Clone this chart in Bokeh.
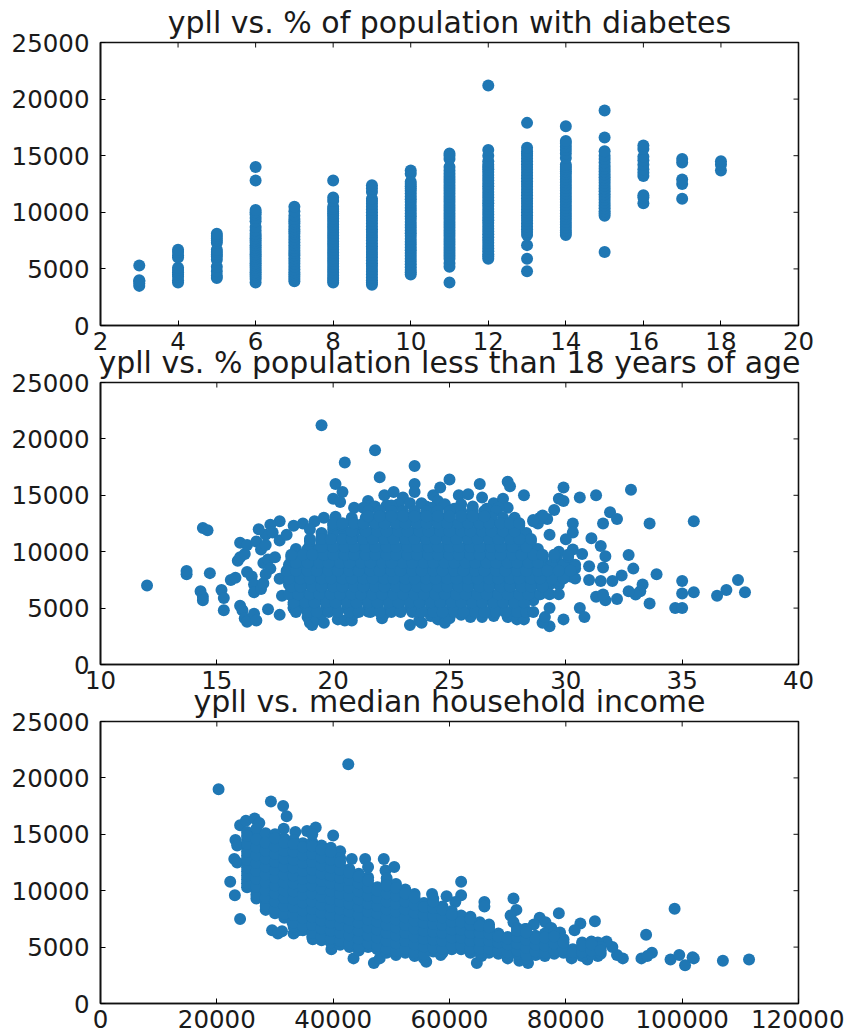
from bokeh.plotting import figure
from bokeh.layouts import column
from bokeh.models import Range1d, FixedTicker, BasicTickFormatter
from bokeh.embed import file_html
from bokeh.resources import INLINE

COLOR = "#1f77b4"
titles = ["ypll vs. % of population with diabetes",
          "ypll vs. % population less than 18 years of age",
          "ypll vs. median household income"]
y_ticks = [0, 5000, 10000, 15000, 20000, 25000]
x_ticks_1 = [2, 4, 6, 8, 10, 12, 14, 16, 18, 20]
x_ticks_2 = [10, 15, 20, 25, 30, 35, 40]
x_ticks_3 = [0, 20000, 40000, 60000, 80000, 100000, 120000]

# Panel 1: ypll values listed per diabetes percentage
diabetes_pct = [3, 4, 5, 6, 7, 8, 9, 10, 11, 12, 13, 14, 15, 16, 17, 18]
ypll_by_pct = [
    [3500, 3700, 3900, 4000, 5300],
    [3800, 4000, 4300, 4500, 4700, 4900, 5100, 6000, 6200, 6500, 6700],
    [4200, 4400, 4800, 5200, 5800, 6100, 6300, 6500, 6700, 7300, 7500, 7700, 7900, 8100],
    [3800, 4100, 4300, 4500, 4700, 4900, 5100, 5300, 5500, 5700, 5900, 6100, 6300, 6500, 6700, 6900, 7100, 7300, 7500, 7700, 7900, 8100, 8400, 8700, 9200, 9500, 9800, 10000, 10200, 12800, 14000],
    [3900, 4100, 4300, 4500, 4700, 4950, 5200, 5450, 5700, 5950, 6200, 6400, 6600, 6850, 7100, 7350, 7600, 7850, 8100, 8300, 8500, 8750, 9000, 9200, 9400, 9700, 10100, 10500],
    [3800, 4000, 4200, 4450, 4700, 4950, 5200, 5450, 5700, 5950, 6200, 6450, 6700, 6950, 7200, 7450, 7700, 7950, 8200, 8450, 8700, 8950, 9200, 9450, 9700, 9900, 10100, 10300, 10500, 11000, 11300, 12800],
    [3600, 3800, 4000, 4250, 4500, 4750, 5000, 5250, 5500, 5750, 6000, 6250, 6500, 6750, 7000, 7250, 7500, 7750, 8000, 8250, 8500, 8750, 9000, 9250, 9500, 9750, 10000, 10250, 10500, 10750, 11000, 11200, 11800, 12100, 12400],
    [4500, 4700, 4900, 5150, 5400, 5650, 5900, 6150, 6400, 6650, 6900, 7150, 7400, 7650, 7900, 8150, 8400, 8650, 8900, 9150, 9400, 9650, 9900, 10150, 10400, 10650, 10900, 11150, 11400, 11650, 11900, 12100, 12300, 12500, 12700, 13400, 13700],
    [3800, 5200, 5500, 5900, 6150, 6400, 6650, 6900, 7150, 7400, 7650, 7900, 8150, 8400, 8650, 8900, 9150, 9400, 9650, 9900, 10150, 10400, 10650, 10900, 11150, 11400, 11650, 11900, 12150, 12400, 12650, 12900, 13150, 13400, 13700, 14000, 14700, 15000, 15200],
    [5900, 6100, 6300, 6550, 6800, 7050, 7300, 7550, 7800, 8050, 8300, 8550, 8800, 9050, 9300, 9550, 9800, 10050, 10300, 10550, 10800, 11050, 11300, 11550, 11800, 12050, 12300, 12550, 12800, 13050, 13300, 13550, 13800, 14000, 14200, 14500, 15000, 15500, 21200],
    [4800, 5900, 7100, 8000, 8250, 8500, 8750, 9000, 9250, 9500, 9750, 10000, 10250, 10500, 10750, 11000, 11250, 11500, 11750, 12000, 12250, 12500, 12750, 13000, 13250, 13500, 13750, 14000, 14250, 14500, 14750, 15000, 15200, 15400, 15700, 17900],
    [8000, 8200, 8400, 8650, 8900, 9150, 9400, 9650, 9900, 10150, 10400, 10650, 10900, 11150, 11400, 11650, 11900, 12150, 12400, 12650, 12900, 13150, 13400, 13600, 13800, 14000, 14200, 14800, 15200, 15500, 15800, 16100, 16300, 17600],
    [6500, 9700, 9900, 10100, 10350, 10600, 10850, 11100, 11350, 11600, 11850, 12100, 12350, 12600, 12850, 13100, 13350, 13600, 13850, 14100, 14400, 14700, 15000, 15400, 16600, 19000],
    [10800, 11300, 11500, 13200, 13500, 13800, 14200, 14600, 14900, 15600, 15900],
    [11200, 12500, 12900, 14400, 14700],
    [13700, 14200, 14500],
]

# Panel 2: scattered points around the main cloud
under18_pct = [12, 13.7, 13.7, 14.3, 14.4, 14.4, 14.4, 14.6, 14.7, 15.2, 15.3, 15.3, 15.6, 15.8, 15.9, 16.0, 16.2, 16.0, 16.3, 16.0, 16.1, 16.2, 16.3, 16.6, 16.7, 16.3, 16.5, 16.6, 16.6, 16.9, 17.0, 16.7, 16.9, 17.1, 17.1, 16.8, 17.7, 17.3, 18.3, 18.7, 19.2, 19.6, 20.1, 19.0, 17.4, 17.7, 18.0, 17.0, 17.2, 17.5, 17.3, 17.1, 17.7, 17.8, 17.7, 17.2,
               19.5, 21.8, 20.5, 22.0, 23.5, 20.1, 23.5, 25.0, 26.3, 27.5, 27.6, 20.4, 20.0, 20.3, 20.9, 21.5, 21.5, 22.2, 22.6, 23.0, 23.5, 24.3, 24.6, 24.5, 25.4, 25.8, 26.4, 26.9, 27.3, 27.5, 28.2, 26.0, 25.5, 22.8, 24.0, 23.8,
               21.3, 21.8, 22.3, 23.3, 24.8, 26.6, 27.1, 28.6, 28.9, 27.0, 22.5, 24.2, 25.2,
               29.9, 29.7, 29.9, 30.6, 31.3, 32.8, 31.9, 32.2, 31.6, 33.6, 35.5, 30.3, 30.3, 30.0, 31.1, 31.5, 31.7, 32.7, 32.9, 31.6, 31.0, 33.9, 32.4, 35.0, 37.4, 36.9, 37.7, 36.5, 35.5, 35.0, 34.7, 35.0, 33.6, 33.3, 33.2, 33.0, 32.7, 32.2, 31.7, 31.3, 31.6, 30.6, 30.8, 29.9, 29.3, 31.0, 31.5, 32.0, 29.7, 29.2, 28.8, 28.9, 29.3, 29.5, 29.0, 28.6, 30.3, 30.7, 29.6,
               18.3, 18.6, 18.9, 19.0, 19.1, 19.3, 19.6, 19.5, 20.2, 20.5, 20.8, 20.9, 21.5, 22.1, 22.2, 23.3, 23.7, 23.8, 24.2, 24.5, 24.8, 25.0, 25.5, 25.9, 26.4, 26.9, 27.5, 27.9, 28.2, 28.3, 29.0, 29.1, 29.3]
under18_ypll = [7000, 8000, 8300, 6500, 6000, 5700, 12100, 11900, 8100, 6600, 5900, 4800, 7500, 7700, 9200, 9500, 9800, 10800, 10600, 5200, 4800, 4100, 3800, 4500, 3900, 8200, 7800, 7100, 6400, 6700, 7200, 10900, 10200, 10600, 11500, 12000, 12700, 12400, 12300, 12500, 12700, 13000, 13100, 12000, 11700, 11000, 11500, 9000, 9300, 9500, 8500, 8000, 7600, 6100, 4400, 4900,
                21200, 19000, 17900, 16600, 17600, 16000, 16000, 16400, 16000, 16200, 15800, 15300, 14700, 14400, 13900, 14500, 14000, 15000, 15300, 14800, 15300, 15000, 15700, 14500, 15000, 15100, 14800, 14300, 14700, 13900, 15000, 14000, 14200, 14200, 14000, 14300,
                13900, 14000, 14100, 14300, 14200, 13800, 13900, 12700, 13000, 13600, 14100, 13900, 13800,
                15700, 14700, 14500, 14800, 15000, 15500, 13500, 12900, 12500, 12500, 12700, 12500, 11700, 11100, 11200, 10500, 9600, 9700, 8500, 8600, 8700, 8000, 7900, 7400, 7500, 6600, 6400, 6100, 6400, 6300, 5000, 5000, 5400, 7100, 6500, 6200, 6500, 5800, 5700, 6000, 6200, 5000, 4200, 4000, 3400, 7500, 7400, 7400, 10000, 12900, 12500, 13000, 11500, 13700, 13200, 12800, 10200, 9800, 9500,
                5000, 5300, 4200, 3700, 3500, 4000, 3700, 4500, 4000, 3900, 3900, 4500, 4700, 4100, 4500, 3500, 3900, 3700, 4300, 4000, 3700, 4100, 4400, 4200, 4200, 4300, 4200, 4000, 4000, 4700, 3700, 4200, 5000]

# Panel 2: the dense cloud, as x values along bands of ypll
cloud2_ypll = [5000, 5700, 6400, 7100, 7800, 8500, 9200, 9900, 10600, 11300, 12000, 12700, 13300]
cloud2_ypll_mid = [5350, 6050, 6750, 7450, 8150, 8850, 9550, 10250, 10950, 11650, 12350, 13000, 13600]
cloud2_ypll_low = [4650, 5520, 6220, 6920, 7620, 8320, 9020, 9720, 10420, 11120, 11820, 12520, 13150]
cloud2_row_low = [1, 0, 3, 2, 5, 4, 7, 6, 9, 8, 11, 10, 12]
cloud2_pct = [
    [18.3, 18.8, 19.2, 19.7, 20.1, 20.6, 21.0, 21.5, 21.9, 22.4, 22.8, 23.3, 23.7, 24.2, 24.6, 25.1, 25.5, 26.0, 26.4, 26.9, 27.3, 27.8, 28.2],
    [18.4, 18.9, 19.3, 19.8, 20.2, 20.7, 21.1, 21.6, 22.0, 22.5, 22.9, 23.4, 23.8, 24.3, 24.7, 25.2, 25.6, 26.1, 26.5, 27.0, 27.4, 27.9, 28.3, 28.6],
    [18.2, 18.6, 19.1, 19.5, 20.0, 20.4, 20.9, 21.3, 21.8, 22.2, 22.7, 23.1, 23.6, 24.0, 24.5, 24.9, 25.4, 25.8, 26.3, 26.7, 27.2, 27.6, 28.1, 28.5, 29.0],
    [18.1, 18.5, 19.0, 19.4, 19.9, 20.3, 20.8, 21.2, 21.7, 22.1, 22.6, 23.0, 23.5, 23.9, 24.4, 24.8, 25.3, 25.7, 26.2, 26.6, 27.1, 27.5, 28.0, 28.4, 28.9, 29.3, 29.7],
    [18.0, 18.4, 18.9, 19.3, 19.8, 20.2, 20.7, 21.1, 21.6, 22.0, 22.5, 22.9, 23.4, 23.8, 24.3, 24.7, 25.2, 25.6, 26.1, 26.5, 27.0, 27.4, 27.9, 28.3, 28.8, 29.2, 29.7, 30.2],
    [18.1, 18.6, 19.0, 19.5, 19.9, 20.4, 20.8, 21.3, 21.7, 22.2, 22.6, 23.1, 23.5, 24.0, 24.4, 24.9, 25.3, 25.8, 26.2, 26.7, 27.1, 27.6, 28.0, 28.5, 28.9, 29.4, 29.9, 30.4],
    [18.2, 18.7, 19.1, 19.6, 20.0, 20.5, 20.9, 21.4, 21.8, 22.3, 22.7, 23.2, 23.6, 24.1, 24.5, 25.0, 25.4, 25.9, 26.3, 26.8, 27.2, 27.7, 28.1, 28.6, 29.0, 29.5, 30.1],
    [18.4, 18.9, 19.4, 19.8, 20.3, 20.7, 21.2, 21.6, 22.1, 22.5, 23.0, 23.4, 23.9, 24.3, 24.8, 25.2, 25.7, 26.1, 26.6, 27.0, 27.5, 27.9, 28.4, 28.8],
    [19.0, 19.5, 19.9, 20.4, 20.8, 21.3, 21.7, 22.2, 22.6, 23.1, 23.5, 24.0, 24.4, 24.9, 25.3, 25.8, 26.2, 26.7, 27.1, 27.6, 28.0, 28.5],
    [19.5, 20.0, 20.5, 20.9, 21.4, 21.8, 22.3, 22.7, 23.2, 23.6, 24.1, 24.5, 25.0, 25.4, 25.9, 26.3, 26.8, 27.2, 27.7, 28.3],
    [20.0, 20.4, 20.9, 21.3, 21.8, 22.2, 22.7, 23.1, 23.6, 24.0, 24.5, 24.9, 25.4, 25.8, 26.3, 26.7, 27.2, 27.6, 28.0],
    [20.8, 21.4, 21.9, 22.3, 22.8, 23.2, 23.7, 24.1, 24.6, 25.0, 25.5, 25.9, 26.4, 26.8, 27.3, 27.8],
    [21.5, 22.0, 22.5, 23.0, 23.5, 24.0, 24.5, 25.0, 25.5, 26.0, 26.5],
]

# Panel 3: scattered points around the main band
income = [20300, 42600, 29300, 31400, 32000, 24000, 25000, 26500, 27300, 23200, 23500, 23000, 23500, 22300, 23100, 24000, 29500, 30500, 31200, 33200, 33000, 37000, 35500, 33500, 40000, 31500, 41200, 43200, 45500, 48700, 49000, 50500, 62000, 62000, 61000, 59500, 57000, 66000, 66000, 71000, 71500, 70500, 71000, 78800, 75500, 85000, 82500, 81500, 98700, 93800, 94800, 93000, 94000, 98000, 99500, 100500, 101800, 102000, 107000, 111500, 89800, 88800, 88000, 87000, 85500, 84500, 83000, 47000, 48000, 43500, 39700, 36500, 34000, 56000, 58500, 64700, 65500, 70000, 73500, 72000, 83700, 85500, 81000, 74500, 76500, 77500, 79000, 73000, 72500]
income_ypll = [19000, 21200, 17900, 17500, 16600, 15800, 16200, 16400, 16000, 14500, 14000, 12800, 12500, 10800, 9600, 7500, 6500, 6200, 6400, 6200, 7200, 15600, 15300, 15200, 14900, 15500, 13500, 12800, 12800, 12800, 11800, 12100, 10800, 9600, 9000, 9500, 9700, 9000, 8600, 9300, 8300, 7800, 7200, 8000, 7600, 7300, 7100, 6500, 8400, 6100, 4500, 4000, 4200, 3900, 4300, 3400, 4100, 4000, 3800, 3900, 4000, 4300, 5000, 5500, 5400, 5000, 5200, 3600, 4000, 4000, 4800, 5700, 6500, 3700, 4300, 3600, 4200, 4000, 3600, 3800, 3900, 4200, 4000, 7000, 7200, 6700, 6300, 6600, 6200]

# Panel 3: the dense band, as ypll values along income columns
band3_income = [25200, 26800, 28400, 30000, 31600, 33200, 34800, 36400, 38000, 39600, 41200, 42800, 44400, 46000, 47600, 49200, 50800, 52400, 54000, 55600, 57200, 58800, 60400, 62000, 63600, 65200, 66800, 68400, 70000, 71600, 73200, 74800, 76400, 78000, 79600, 81200, 82800, 84400, 86000]
band3_ypll = [
    [10300, 11000, 11700, 12400, 13100, 13800, 14500, 15200],
    [9300, 10000, 10700, 11400, 12100, 12800, 13500, 14200, 14900, 15500],
    [8300, 9000, 9700, 10400, 11100, 11800, 12500, 13200, 13900, 14600, 15100],
    [8000, 8700, 9400, 10100, 10800, 11500, 12200, 12900, 13600, 14300, 15000],
    [7600, 8300, 9000, 9700, 10400, 11100, 11800, 12500, 13200, 13900, 14600],
    [6800, 7500, 8200, 8900, 9600, 10300, 11000, 11700, 12400, 13100, 13800, 14500],
    [6500, 7200, 7900, 8600, 9300, 10000, 10700, 11400, 12100, 12800, 13500, 14200],
    [5900, 6600, 7300, 8000, 8700, 9400, 10100, 10800, 11500, 12200, 12900, 13600, 14300, 15000],
    [5600, 6300, 7000, 7700, 8400, 9100, 9800, 10500, 11200, 11900, 12600, 13300, 14000],
    [5400, 6100, 6800, 7500, 8200, 8900, 9600, 10300, 11000, 11700, 12400, 13100, 13800],
    [5200, 5900, 6600, 7300, 8000, 8700, 9400, 10100, 10800, 11500, 12200, 12900],
    [5000, 5700, 6400, 7100, 7800, 8500, 9200, 9900, 10600, 11300, 11900],
    [4700, 5400, 6100, 6800, 7500, 8200, 8900, 9600, 10300, 11000, 11500],
    [5000, 5700, 6400, 7100, 7800, 8500, 9200, 9900, 10600, 11200, 12100],
    [4800, 5500, 6200, 6900, 7600, 8300, 9000, 9700, 10300],
    [4500, 5200, 5900, 6600, 7300, 8000, 8700, 9400, 10100, 10800, 11100],
    [4300, 5000, 5700, 6400, 7100, 7800, 8500, 9200, 9900, 10600],
    [4500, 5200, 5900, 6600, 7300, 8000, 8700, 9400, 10100],
    [4200, 4900, 5600, 6300, 7000, 7700, 8400, 9100, 9700],
    [4000, 4700, 5400, 6100, 6800, 7500, 8200, 8900],
    [4600, 5300, 6000, 6700, 7400, 8100, 8800, 9300],
    [4500, 5200, 5900, 6600, 7300, 8000, 8600],
    [4800, 5500, 6200, 6900, 7600, 8200],
    [4800, 5500, 6200, 6900, 7500, 7800],
    [4500, 5200, 5900, 6600, 7300, 7700],
    [4500, 5200, 5900, 6600, 7200],
    [4500, 5200, 5900, 6500, 7000],
    [4400, 5100, 5700, 6200],
    [4200, 4900, 5600, 5900],
    [4400, 5000, 5600, 6200, 6700],
    [4000, 4600, 5300, 6000, 6600],
    [4300, 4900, 5500, 6000],
    [4200, 4800, 5500, 6200],
    [4400, 5000, 5600, 6300],
    [4500, 5100, 5700],
    [4300, 4800],
    [4200, 4900, 5400],
    [4400, 5000, 5500],
    [4400, 5000],
]
band3_ypll_mid = [
    [10650, 11350, 12050, 12750, 13450, 14150, 14850],
    [9650, 10350, 11050, 11750, 12450, 13150, 13850, 14550],
    [8650, 9350, 10050, 10750, 11450, 12150, 12850, 13550, 14250],
    [8350, 9050, 9750, 10450, 11150, 11850, 12550, 13250, 13950, 14650],
    [7950, 8650, 9350, 10050, 10750, 11450, 12150, 12850, 13550, 14250],
    [7150, 7850, 8550, 9250, 9950, 10650, 11350, 12050, 12750, 13450, 14150],
    [6850, 7550, 8250, 8950, 9650, 10350, 11050, 11750, 12450, 13150, 13850],
    [6250, 6950, 7650, 8350, 9050, 9750, 10450, 11150, 11850, 12550, 13250, 13950],
    [5950, 6650, 7350, 8050, 8750, 9450, 10150, 10850, 11550, 12250, 12950, 13650],
    [5750, 6450, 7150, 7850, 8550, 9250, 9950, 10650, 11350, 12050, 12750, 13450],
    [5550, 6250, 6950, 7650, 8350, 9050, 9750, 10450, 11150, 11850, 12550],
    [5350, 6050, 6750, 7450, 8150, 8850, 9550, 10250, 10950, 11600],
    [5050, 5750, 6450, 7150, 7850, 8550, 9250, 9950, 10650, 11250],
    [5350, 6050, 6750, 7450, 8150, 8850, 9550, 10250, 10900],
    [5150, 5850, 6550, 7250, 7950, 8650, 9350, 10000],
    [4850, 5550, 6250, 6950, 7650, 8350, 9050, 9750, 10450],
    [4650, 5350, 6050, 6750, 7450, 8150, 8850, 9550, 10250],
    [4850, 5550, 6250, 6950, 7650, 8350, 9050, 9750],
    [4550, 5250, 5950, 6650, 7350, 8050, 8750, 9400],
    [4350, 5050, 5750, 6450, 7150, 7850, 8550],
    [4950, 5650, 6350, 7050, 7750, 8450, 9050],
    [4850, 5550, 6250, 6950, 7650, 8300],
    [5150, 5850, 6550, 7250, 7900],
    [5150, 5850, 6550, 7200],
    [4850, 5550, 6250, 6950, 7500],
    [4850, 5550, 6250, 6900],
    [4850, 5550, 6200, 6750],
    [4750, 5400, 5950],
    [4550, 5250, 5750],
    [4700, 5300, 5900, 6450],
    [4300, 4950, 5650, 6300],
    [4600, 5200, 5750],
    [4500, 5150, 5850],
    [4700, 5300, 5950],
    [4800, 5400],
    [4550],
    [4550, 5150],
    [4700, 5250],
    [4700],
]

DOT = 12
FONT = "DejaVu Sans"
TICK_SIZE = "24.5px"
TITLE_SIZE = "30px"
TEXT_COLOR = "#1a1a1a"
TICK_PX = 5
FRAME_W = 698


def panel(title, xr, xt, top_margin, frame_h, bottom_border, xs, ys):
    p = figure(width=844, height=42 + frame_h + bottom_border, output_backend="svg",
               toolbar_location=None, tools="", x_range=Range1d(*xr), y_range=Range1d(0, 25000),
               min_border_left=100, min_border_right=46, min_border_top=42, min_border_bottom=bottom_border,
               margin=(top_margin, 0, 0, 0), background_fill_color=None, border_fill_color=None)
    p.title.text = title
    p.title.align = "center"
    p.title.text_font = FONT
    p.title.text_font_style = "normal"
    p.title.text_font_size = TITLE_SIZE
    p.title.text_color = TEXT_COLOR
    p.title.standoff = 5
    p.grid.visible = False
    p.outline_line_color = "#111111"
    p.outline_line_width = 1.6
    for ax, ticks, standoff in ((p.xaxis[0], xt, 6), (p.yaxis[0], y_ticks, 11)):
        ax.ticker = FixedTicker(ticks=ticks)
        ax.formatter = BasicTickFormatter(use_scientific=False)
        ax.major_tick_in = TICK_PX
        ax.major_tick_out = 0
        ax.minor_tick_line_color = None
        ax.major_label_text_font = FONT
        ax.major_label_text_font_size = TICK_SIZE
        ax.major_label_text_color = TEXT_COLOR
        ax.major_label_standoff = standoff
        ax.axis_line_color = "#111111"
        ax.axis_line_width = 1.6
    # tick marks on the top and right sides of the frame, from the same tick arrays
    dy = 25000 * TICK_PX / frame_h
    dx = (xr[1] - xr[0]) * TICK_PX / FRAME_W
    p.segment(xt, [25000] * len(xt), xt, [25000 - dy] * len(xt), line_color="#111111", line_width=1)
    p.segment([xr[1]] * len(y_ticks), y_ticks, [xr[1] - dx] * len(y_ticks), y_ticks, line_color="#111111", line_width=1)
    p.scatter(xs, ys, size=DOT, marker="circle", fill_color=COLOR, line_color=COLOR, line_width=0)
    return p


x1 = [x for x, vals in zip(diabetes_pct, ypll_by_pct) for _ in vals]
y1 = [v for vals in ypll_by_pct for v in vals]
low_rows = [cloud2_pct[i] for i in cloud2_row_low]
x2 = (under18_pct + [x for row in cloud2_pct for x in row] + [x for row in cloud2_pct for x in row]
      + [x for row in low_rows for x in row])
y2 = (under18_ypll + [y for y, row in zip(cloud2_ypll, cloud2_pct) for _ in row]
      + [y for y, row in zip(cloud2_ypll_mid, cloud2_pct) for _ in row]
      + [y for y, row in zip(cloud2_ypll_low, low_rows) for _ in row])
x3 = (income + [x for x, vals in zip(band3_income, band3_ypll) for _ in vals]
      + [x for x, vals in zip(band3_income, band3_ypll_mid) for _ in vals])
y3 = income_ypll + [v for vals in band3_ypll for v in vals] + [v for vals in band3_ypll_mid for v in vals]

p1 = panel(titles[0], (2, 20), x_ticks_1, 0, 283, 30, x1, y1)
p2 = panel(titles[1], (10, 40), x_ticks_2, -15, 282, 30, x2, y2)
p3 = panel(titles[2], (0, 120000), x_ticks_3, -15, 282, 31, x3, y3)

layout = column(p1, p2, p3, spacing=0)
open("out.html", "w").write(file_html(layout, INLINE))
